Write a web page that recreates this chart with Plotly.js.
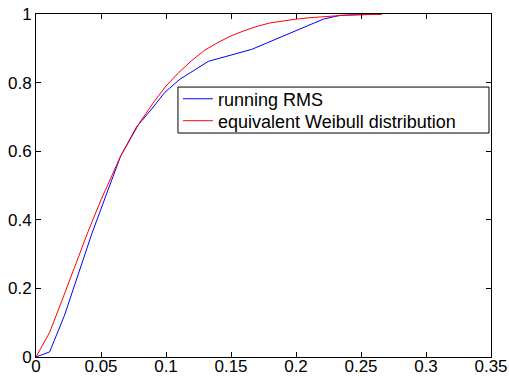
<!DOCTYPE html>
<html>
<head>
<meta charset="utf-8">
<script src="https://cdn.plot.ly/plotly-3.0.1.min.js"></script>
<style>html,body{margin:0;padding:0;background:#fff;}#chart{width:509px;height:376px;}</style>
</head>
<body>
<div id="chart"></div>
<script>
// Data
const rmsX = [0, 0.0105, 0.0218, 0.043, 0.065, 0.0774, 0.089, 0.0992, 0.1108, 0.1326, 0.166, 0.221, 0.234, 0.266];
const rmsY = [0, 0.015, 0.12, 0.36, 0.585, 0.671, 0.723, 0.772, 0.81, 0.862, 0.897, 0.985, 0.996, 1.0];

const weibX = [0, 0.0105, 0.02, 0.03, 0.04, 0.05, 0.065, 0.08, 0.09, 0.1, 0.11, 0.12, 0.13, 0.14, 0.15, 0.16, 0.17, 0.18, 0.19, 0.2, 0.21, 0.22, 0.23, 0.24, 0.25, 0.266];
const weibY = [0, 0.072, 0.165, 0.265, 0.365, 0.458, 0.585, 0.685, 0.74, 0.79, 0.83, 0.865, 0.895, 0.917, 0.936, 0.951, 0.964, 0.974, 0.98, 0.985, 0.989, 0.992, 0.995, 0.997, 0.998, 0.999];

const seriesNames = ["running RMS", "equivalent Weibull distribution"];
const xTickVals = [0, 0.05, 0.1, 0.15, 0.2, 0.25, 0.3, 0.35];
const xTickText = ["0", "0.05", "0.1", "0.15", "0.2", "0.25", "0.3", "0.35"];
const yTickVals = [0, 0.2, 0.4, 0.6, 0.8, 1];
const yTickText = ["0", "0.2", "0.4", "0.6", "0.8", "1"];

const fam = "Liberation Sans, Arial, sans-serif";
const font = {family: fam, size: 17, color: "#000"};
const legFont = {family: fam, size: 18, color: "#000"};

const traces = [
  {x: rmsX, y: rmsY, name: seriesNames[0], mode: "lines", type: "scatter",
   line: {color: "#0000ff", width: 1}, legend: "legend"},
  {x: weibX, y: weibY, name: seriesNames[1], mode: "lines", type: "scatter",
   line: {color: "#ff0000", width: 1}, legend: "legend2"}
];

const axisCommon = {
  showgrid: false, zeroline: false, showline: true, linecolor: "#000", linewidth: 1,
  mirror: "ticks", ticks: "inside", ticklen: 5, tickwidth: 1, tickcolor: "#000",
  tickfont: font, fixedrange: true
};

const legCommon = {
  x: 0.312, xanchor: "left", yanchor: "middle",
  bgcolor: "rgba(0,0,0,0)", borderwidth: 0, font: legFont, itemwidth: 30
};

const layout = {
  width: 509, height: 376,
  margin: {l: 36, r: 18, t: 14, b: 19, pad: 0},
  paper_bgcolor: "#fff", plot_bgcolor: "#fff",
  font: font,
  showlegend: true,
  xaxis: Object.assign({}, axisCommon, {range: [0, 0.35], tickmode: "array", tickvals: xTickVals, ticktext: xTickText, ticklabelstandoff: -6}),
  yaxis: Object.assign({}, axisCommon, {range: [0, 1], tickmode: "array", tickvals: yTickVals, ticktext: yTickText, ticklabelstandoff: 0}),
  legend: Object.assign({}, legCommon, {y: 0.752}),
  legend2: Object.assign({}, legCommon, {y: 0.688}),
  shapes: [
    {type: "rect", xref: "paper", yref: "paper", x0: 0.312, x1: 0.9956, y0: 0.653, y1: 0.787,
     line: {color: "#000", width: 1}, fillcolor: "#fff", layer: "above"}
  ]
};

Plotly.newPlot("chart", traces, layout, {displayModeBar: false, staticPlot: true});
</script>
</body>
</html>
